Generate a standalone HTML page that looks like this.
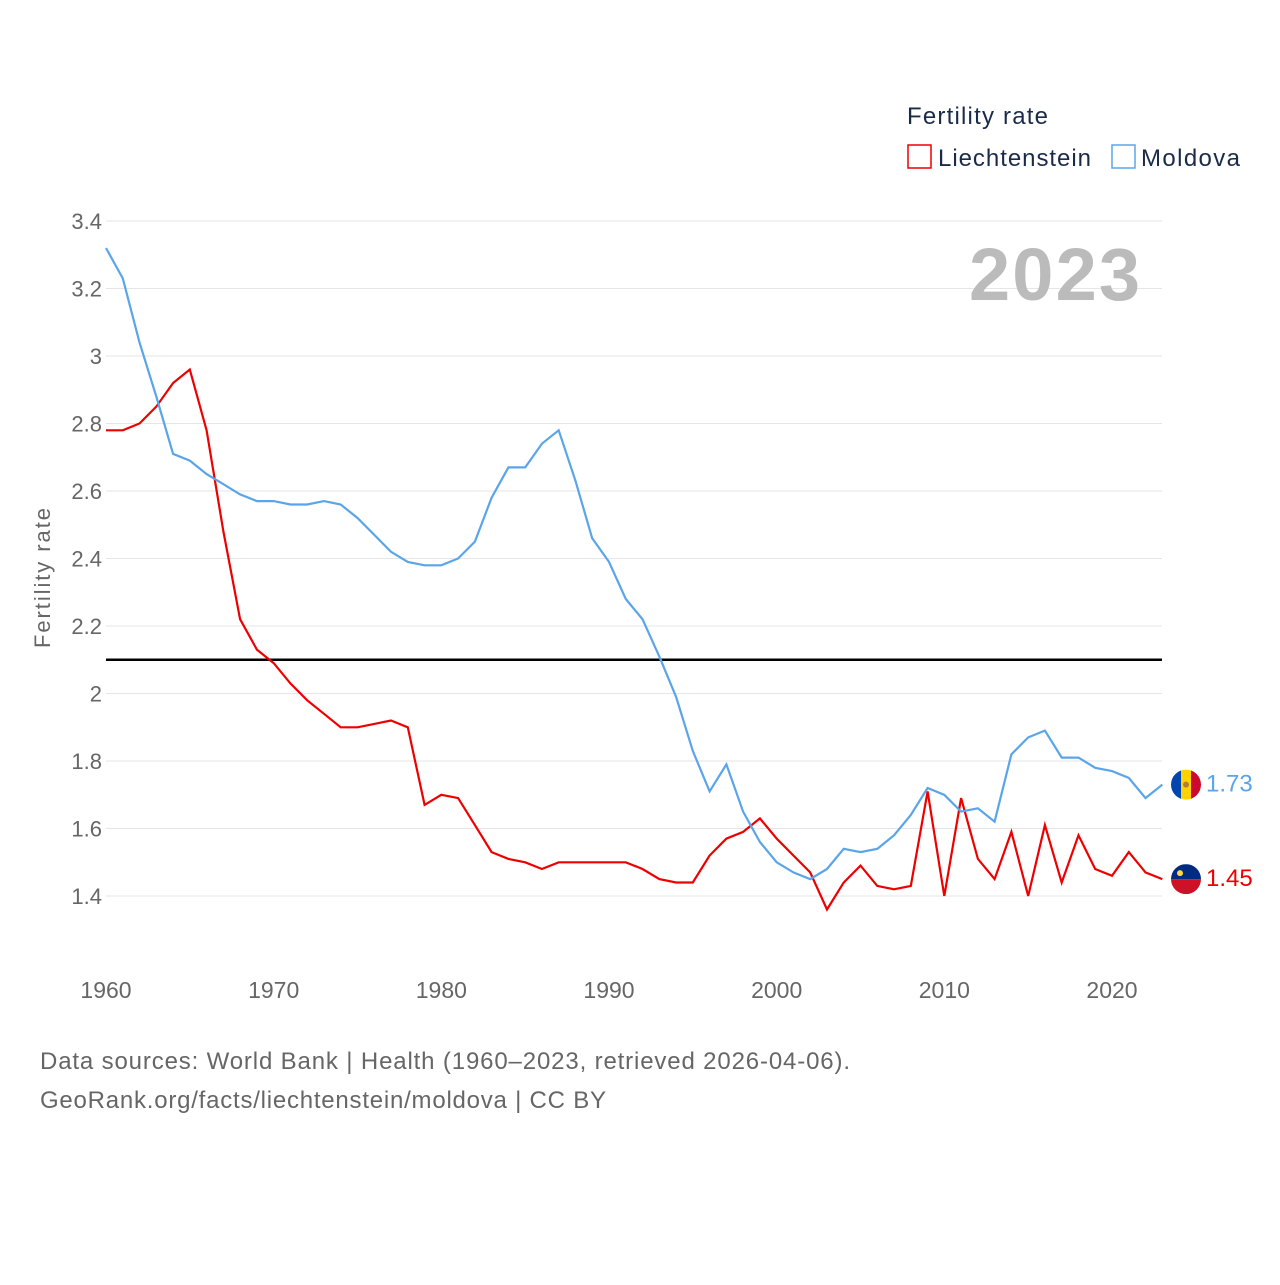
<!DOCTYPE html>
<html><head><meta charset="utf-8">
<style>
body{margin:0;background:#fff;font-family:"Liberation Sans",sans-serif;}
svg text{font-family:"Liberation Sans",sans-serif;}
</style></head>
<body>
<svg id="chart" width="1280" height="1280" xmlns="http://www.w3.org/2000/svg">
<rect width="1280" height="1280" fill="#fff"/>
<g id="grid"></g>
<g id="yticks"></g>
<g id="xticks"></g>
<text transform="translate(50,578) rotate(-90)" text-anchor="middle" font-size="22" fill="#666" textLength="140">Fertility rate</text>
<text x="969" y="300" font-size="74" font-weight="bold" fill="#bbb" textLength="171">2023</text>
<g>
<text x="907" y="124" font-size="24" fill="#1a2b4a" textLength="141">Fertility rate</text>
<rect x="908" y="145" width="23" height="23" fill="none" stroke="#e00" stroke-width="1.5"/>
<text x="938" y="166" font-size="24" fill="#1a2b4a" textLength="153">Liechtenstein</text>
<rect x="1112" y="145" width="23" height="23" fill="none" stroke="#5aa5ea" stroke-width="1.5"/>
<text x="1141" y="166" font-size="24" fill="#1a2b4a" textLength="99">Moldova</text>
</g>
<line id="refline" stroke="#000" stroke-width="2.5"/>
<path id="lineLI" fill="none" stroke="#e00" stroke-width="2.2"/>
<path id="lineMD" fill="none" stroke="#5aa5ea" stroke-width="2.2"/>
<g id="ends"></g>
<text x="40" y="1069" font-size="24" fill="#666" textLength="810">Data sources: World Bank | Health (1960–2023, retrieved 2026-04-06).</text>
<text x="40" y="1108" font-size="24" fill="#666" textLength="566">GeoRank.org/facts/liechtenstein/moldova | CC BY</text>
</svg>
<script>
const years=[];for(let y=1960;y<=2023;y++)years.push(y);
const liechtenstein=[2.78,2.78,2.80,2.85,2.92,2.96,2.78,2.48,2.22,2.13,2.09,2.03,1.98,1.94,1.90,1.90,1.91,1.92,1.90,1.67,1.70,1.69,1.61,1.53,1.51,1.50,1.48,1.50,1.50,1.50,1.50,1.50,1.48,1.45,1.44,1.44,1.52,1.57,1.59,1.63,1.57,1.52,1.47,1.36,1.44,1.49,1.43,1.42,1.43,1.71,1.40,1.69,1.51,1.45,1.59,1.40,1.61,1.44,1.58,1.48,1.46,1.53,1.47,1.45];
const moldova=[3.32,3.23,3.04,2.88,2.71,2.69,2.65,2.62,2.59,2.57,2.57,2.56,2.56,2.57,2.56,2.52,2.47,2.42,2.39,2.38,2.38,2.40,2.45,2.58,2.67,2.67,2.74,2.78,2.63,2.46,2.39,2.28,2.22,2.11,1.99,1.83,1.71,1.79,1.65,1.56,1.50,1.47,1.45,1.48,1.54,1.53,1.54,1.58,1.64,1.72,1.70,1.65,1.66,1.62,1.82,1.87,1.89,1.81,1.81,1.78,1.77,1.75,1.69,1.73];
const yTicks=[1.4,1.6,1.8,2,2.2,2.4,2.6,2.8,3,3.2,3.4];
const xTicks=[1960,1970,1980,1990,2000,2010,2020];
const refValue=2.1;
const X=v=>106+(v-1960)*(1112-106)/60;
const Y=v=>896-(v-1.4)*(675/2);
const NS="http://www.w3.org/2000/svg";
const grid=document.getElementById('grid'),yt=document.getElementById('yticks'),xt=document.getElementById('xticks');
yTicks.forEach(t=>{
 const l=document.createElementNS(NS,'line');
 
 
 l.setAttribute('x1',106);l.setAttribute('x2',1162);l.setAttribute('y1',Y(t));l.setAttribute('y2',Y(t));
 l.setAttribute('stroke','#e6e6e6');l.setAttribute('stroke-width','1');grid.appendChild(l);
 const tx=document.createElementNS(NS,'text');
 
 
 tx.setAttribute('x',102);tx.setAttribute('y',Y(t)+8);tx.setAttribute('text-anchor','end');
 tx.setAttribute('font-size','22');tx.setAttribute('fill','#666');tx.textContent=String(t);yt.appendChild(tx);
});
xTicks.forEach(t=>{
 const tx=document.createElementNS(NS,'text');
 
 
 tx.setAttribute('x',X(t));tx.setAttribute('y',998);tx.setAttribute('text-anchor','middle');
 tx.setAttribute('font-size','23');tx.setAttribute('fill','#666');tx.textContent=String(t);xt.appendChild(tx);
});
const rl=document.getElementById('refline');
rl.setAttribute('x1',106);rl.setAttribute('x2',1162);rl.setAttribute('y1',Y(refValue));rl.setAttribute('y2',Y(refValue));
const path=a=>a.map((v,i)=>(i?'L':'M')+X(years[i]).toFixed(1)+','+Y(v).toFixed(1)).join('');
document.getElementById('lineLI').setAttribute('d',path(liechtenstein));
document.getElementById('lineMD').setAttribute('d',path(moldova));
const ends=document.getElementById('ends');
function endMark(arr,color,name,top){
 const v=arr[arr.length-1],cx=1186,cy=Y(v);
 const g=document.createElementNS(NS,'g');
 
 
 g.innerHTML=`<clipPath id="c${name}"><circle cx="${cx}" cy="${cy}" r="15"/></clipPath><g clip-path="url(#c${name})">${top}</g>`;
 ends.appendChild(g);
 const t=document.createElementNS(NS,'text');
 
 
 t.setAttribute('x',1206);t.setAttribute('y',cy+7);t.setAttribute('font-size','24');t.setAttribute('fill',color);
 t.textContent=v.toFixed(2);ends.appendChild(t);
}
const ymd=Y(moldova[63]),yli=Y(liechtenstein[63]);
endMark(moldova,'#5aa5ea','moldova',`<rect x="1171" y="${ymd-15}" width="10" height="30" fill="#0046ae"/><rect x="1181" y="${ymd-15}" width="10" height="30" fill="#ffd200"/><rect x="1191" y="${ymd-15}" width="10" height="30" fill="#cc092f"/><circle cx="1186" cy="${ymd}" r="3" fill="#b07e3a"/>`);
endMark(liechtenstein,'#e00','liechtenstein',`<rect x="1171" y="${yli-15}" width="30" height="15" fill="#002b7f"/><rect x="1171" y="${yli}" width="30" height="15" fill="#ce1126"/><circle cx="1180" cy="${yli-6}" r="3" fill="#ffd83d"/>`);
</script>
</body></html>
